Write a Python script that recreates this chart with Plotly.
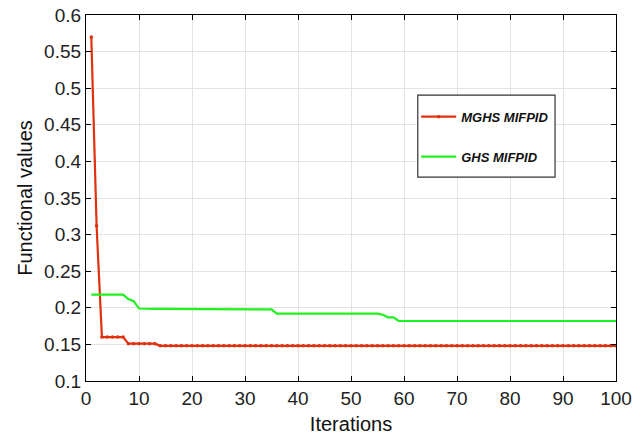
import plotly.graph_objects as go

# Convergence histories of the two tuning methods
iterations = list(range(1, 101))

mghs_values = [0.570, 0.312] + [0.160] * 5 + [0.151] * 6 + [0.148] * 87

ghs_values = (
    [0.218] * 7
    + [0.212, 0.209]
    + [0.199]
    + [0.1985] * 10
    + [0.1978] * 15
    + [0.192] * 20
    + [0.1905, 0.187, 0.187]
    + [0.182] * 42
)

x_ticks = [0, 10, 20, 30, 40, 50, 60, 70, 80, 90, 100]
y_ticks = [0.1, 0.15, 0.2, 0.25, 0.3, 0.35, 0.4, 0.45, 0.5, 0.55, 0.6]
y_tick_text = ["0.1", "0.15", "0.2", "0.25", "0.3", "0.35", "0.4", "0.45", "0.5", "0.55", "0.6"]

red = "#e0300e"
green = "#1ff21f"
font_family = "Liberation Sans, Arial, sans-serif"

fig = go.Figure()
fig.add_trace(go.Scatter(
    x=iterations, y=mghs_values, name="MGHS MIFPID",
    mode="lines+markers",
    line=dict(color=red, width=2.2),
    marker=dict(color=red, size=3.5, symbol="circle"),
    legendgroup="a",
))
fig.add_trace(go.Scatter(
    x=iterations, y=ghs_values, name="GHS MIFPID",
    mode="lines",
    line=dict(color=green, width=2.2),
    legendgroup="b",
))

axis_common = dict(
    showline=True, linecolor="black", linewidth=1.2, mirror="ticks",
    ticks="inside", ticklen=5, tickcolor="black", tickwidth=1,
    showgrid=True, gridcolor="#e3e3e3", gridwidth=1,
    zeroline=False, automargin=False,
    tickfont=dict(family=font_family, size=19, color="#222"),
)

fig.update_xaxes(
    range=[0, 100], tickvals=x_ticks,
    title=dict(text="Iterations", font=dict(family=font_family, size=20, color="#111"), standoff=9),
    **axis_common,
)
fig.update_yaxes(
    range=[0.1, 0.6], tickvals=y_ticks, ticktext=y_tick_text,
    title=dict(text="Functional values", font=dict(family=font_family, size=20, color="#111"), standoff=6),
    **axis_common,
)

# Framed white panel behind the legend entries
fig.add_shape(
    type="rect", xref="paper", yref="paper",
    x0=0.626, x1=0.885, y0=0.557, y1=0.781,
    fillcolor="white", line=dict(color="#333", width=1.2), layer="above",
)

fig.update_layout(
    width=644, height=437,
    margin=dict(l=86, r=28, t=15, b=56),
    plot_bgcolor="white", paper_bgcolor="white",
    showlegend=True,
    legend=dict(
        x=0.623, y=0.763, xanchor="left", yanchor="top",
        bgcolor="rgba(0,0,0,0)", borderwidth=0,
        font=dict(family=font_family, size=13, color="#111", weight="bold", style="italic"),
        tracegroupgap=20,
        itemwidth=35,
    ),
)

fig.write_html("out.html")
